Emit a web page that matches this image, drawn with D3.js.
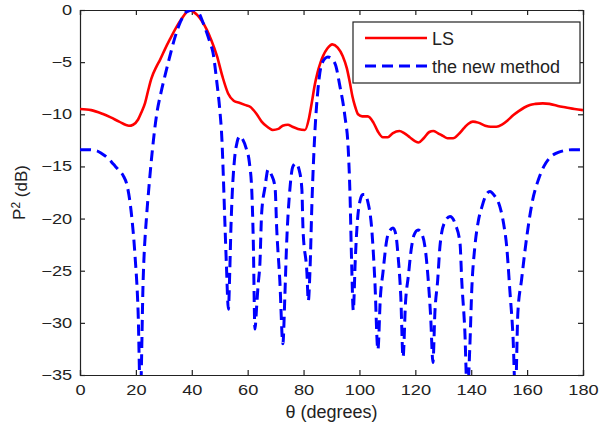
<!DOCTYPE html>
<html>
<head>
<meta charset="utf-8">
<script src="https://cdn.jsdelivr.net/npm/d3@7"></script>
<style>
  html, body { margin: 0; padding: 0; background: #fff; }
  svg { display: block; font-family: "Liberation Sans", Arial, sans-serif; }
</style>
</head>
<body>
<svg id="chart" width="611" height="434"></svg>
<script>
// ---- data ----
const xTicks = [0, 20, 40, 60, 80, 100, 120, 140, 160, 180];
const yTicks = [0, -5, -10, -15, -20, -25, -30, -35];
const seriesNames = ["LS", "the new method"];

const lsTheta = [0, 4, 8, 11, 14, 17.5, 19, 20.8, 22, 23.3, 24.5, 25.5, 27.4, 28.6, 30.5, 32.2, 34.6, 36.5, 38, 39.2, 40.5, 42, 43.5, 45.4, 47, 49, 51, 53, 55, 57, 59, 61, 63, 65, 67, 69, 71, 72.5, 74.4, 76, 78, 80.5, 82, 83, 84, 85, 86, 87, 88.5, 90.3, 92.2, 94, 95.5, 96.6, 97.5, 98.5, 99.5, 101, 103, 105, 106.5, 108.4, 110.2, 112, 114.3, 116, 118, 120, 121.2, 123, 125, 126.4, 128, 130, 131.5, 133.5, 135.5, 137.5, 139, 140.6, 142.5, 145, 147, 149, 151, 153, 155, 157, 159, 161, 163, 165.6, 168, 171, 174, 177, 180];
const lsDb    = [-9.5, -9.6, -9.95, -10.3, -10.7, -11.1, -11.0, -10.5, -9.8, -8.9, -7.6, -6.6, -5.4, -4.8, -3.7, -2.8, -1.6, -0.8, -0.25, 0, -0.15, -0.5, -1.0, -1.9, -2.9, -4.4, -6.4, -8.0, -8.7, -8.9, -9.1, -9.3, -9.9, -10.7, -11.2, -11.5, -11.4, -11.1, -11.0, -11.2, -11.4, -11.5, -10.3, -8.8, -7.2, -6.0, -5.1, -4.4, -3.7, -3.3, -3.6, -4.4, -5.6, -7.0, -8.3, -9.3, -10.0, -10.2, -10.2, -10.8, -11.6, -12.2, -12.2, -11.8, -11.6, -11.8, -12.2, -12.6, -12.7, -12.3, -11.7, -11.6, -11.8, -12.1, -12.3, -12.3, -11.9, -11.3, -10.9, -10.7, -10.8, -11.1, -11.2, -11.2, -11.0, -10.6, -10.1, -9.7, -9.35, -9.1, -9.0, -8.95, -9.0, -9.2, -9.35, -9.5, -9.6];

const newTheta = [0, 3, 6, 8, 10, 12, 14, 15.5, 17, 18.5, 19.7, 20.8, 21.6, 22.6, 23.9, 24.6, 25.8, 27.5, 29, 30.5, 32, 34, 36, 38, 40.5, 42.5, 44, 45.4, 46.5, 47.6, 49, 50, 50.8, 51.3, 51.8, 52.4, 53.1, 53.6, 54, 54.5, 55.3, 56.2, 57.2, 58.2, 59.5, 60.6, 61.5, 62, 62.6, 63.2, 63.7, 64.4, 65, 66.2, 67.3, 68.5, 69.8, 70.4, 71.5, 72.6, 73.3, 73.9, 75.1, 76.2, 77.3, 78.4, 79.4, 79.8, 81.2, 81.7, 82.3, 83, 84, 85.2, 86.6, 88.7, 91.2, 93, 94.8, 96, 96.6, 97.2, 97.8, 98.5, 99.2, 100.2, 101.2, 102, 103, 104.4, 105.5, 106.6, 107.5, 108.4, 109.8, 111, 112, 113, 113.8, 114.8, 115.6, 116.5, 117.5, 118.5, 119.5, 121, 122.5, 123.5, 124.5, 125.5, 126.3, 127, 128, 128.8, 130.4, 132.4, 134.4, 136, 136.6, 137.7, 138.6, 139.5, 140.2, 141.3, 142.5, 143.8, 145.2, 146.7, 148.3, 150.3, 151.6, 152.7, 153.8, 155, 155.8, 156.7, 158, 159.9, 162, 164, 166, 168, 170.7, 173, 176, 180];
const newDb    = [-13.4, -13.4, -13.5, -13.8, -14.2, -14.8, -15.4, -15.9, -17.0, -19.8, -23.6, -29, -37, -25.9, -19.5, -17.2, -13.7, -9.9, -7.9, -6.2, -4.6, -2.6, -1.1, -0.2, 0, -0.3, -1.2, -2.2, -3.1, -4.1, -7.0, -9.5, -12.5, -16, -20, -24.5, -28.7, -25, -21, -17.5, -14.3, -12.7, -12.1, -12.4, -13.3, -14.6, -17.5, -22, -30.6, -28.5, -26.5, -24.2, -19.5, -17.0, -15.3, -15.8, -17.0, -21, -25.9, -32.0, -27.5, -22.7, -17.2, -15.0, -14.7, -15.3, -17.2, -21, -25.2, -27.9, -25, -18.5, -12.0, -7.5, -5.1, -4.5, -5.1, -7.3, -10.2, -13.4, -17.5, -24.2, -28.8, -24, -20.5, -18.3, -17.7, -17.7, -18.4, -21, -25.9, -32.6, -27.5, -25.2, -22, -21.1, -20.9, -21.5, -23.5, -27.5, -33.3, -28, -25.5, -23, -21.6, -21.1, -21.6, -22.8, -25.5, -29.5, -33.8, -29, -25.9, -22.7, -20.4, -19.8, -20.6, -22.4, -25.9, -30.7, -37, -32.3, -26.8, -22.7, -20.3, -18.9, -17.8, -17.4, -17.8, -18.9, -20.5, -22.7, -26.8, -31.6, -37, -29, -25.9, -21.7, -18.2, -16.3, -15.0, -14.2, -13.7, -13.5, -13.4, -13.4];

// ---- layout ----
const svg = d3.select("#chart");
const M = { left: 80, top: 10, right: 28, bottom: 59 };
const W = 611 - M.left - M.right;   // 503
const H = 434 - M.top - M.bottom;   // 365

const x = d3.scaleLinear().domain([0, 180]).range([0, W]);
const y = d3.scaleLinear().domain([-35, 0]).range([H, 0]);

const g = svg.append("g").attr("transform", `translate(${M.left},${M.top})`);

g.append("defs").append("clipPath").attr("id", "clip")
  .append("rect").attr("x", 0).attr("y", 0).attr("width", W).attr("height", H);

const axisColor = "#222";
const tickStretch = 1.3;

// bottom axis
const xAxis = g.append("g").attr("transform", `translate(0,${H})`)
  .call(d3.axisBottom(x).tickValues(xTicks).tickSize(-5).tickPadding(10).tickFormat(d3.format("d")));
// left axis
const yAxis = g.append("g")
  .call(d3.axisLeft(y).tickValues(yTicks).tickSize(-5).tickPadding(6).tickFormat(d3.format("d")));
// top & right axes (ticks only)
const tAxis = g.append("g")
  .call(d3.axisTop(x).tickValues(xTicks).tickSize(-5).tickFormat(""));
const rAxis = g.append("g").attr("transform", `translate(${W},0)`)
  .call(d3.axisRight(y).tickValues(yTicks).tickSize(-5).tickFormat(""));

[xAxis, yAxis, tAxis, rAxis].forEach(a => {
  a.select(".domain").attr("stroke", axisColor).attr("stroke-width", 1.2);
  a.selectAll(".tick line").attr("stroke", axisColor).attr("stroke-width", 1.2);
  a.selectAll(".tick text").attr("fill", axisColor).style("font-size", "14px")
    .style("font-family", '"Liberation Sans", Arial, sans-serif');
});
xAxis.selectAll(".tick text").attr("transform", `scale(${tickStretch},1)`);
yAxis.selectAll(".tick text").attr("transform", `scale(${tickStretch},1)`);

// ---- lines ----
const lsData = lsTheta.map((t, i) => [t, lsDb[i]]);
const newData = newTheta.map((t, i) => [t, newDb[i]]);

const line = d3.line().x(d => x(d[0])).y(d => y(d[1])).curve(d3.curveMonotoneX);

const plot = g.append("g").attr("clip-path", "url(#clip)");
plot.append("path").datum(lsData)
  .attr("fill", "none").attr("stroke", "#ff0000").attr("stroke-width", 2.6)
  .attr("stroke-linejoin", "round").attr("d", line);
plot.append("path").datum(newData)
  .attr("fill", "none").attr("stroke", "#0000ff").attr("stroke-width", 3)
  .attr("stroke-dasharray", "11,6").attr("d", line);

// ---- labels ----
svg.append("text").attr("x", M.left + W / 2).attr("y", 418)
  .attr("text-anchor", "middle").attr("fill", axisColor).style("font-size", "18px")
  .text("θ (degrees)");

const yl = svg.append("text")
  .attr("transform", `translate(25,${M.top + H / 2}) rotate(-90)`)
  .attr("text-anchor", "middle").attr("fill", axisColor).style("font-size", "17px");
yl.append("tspan").text("P");
yl.append("tspan").attr("dy", "-0.4em").style("font-size", "12px").text("2");
yl.append("tspan").attr("dy", "0.4em").text(" (dB)");

// ---- legend ----
const lg = svg.append("g");
lg.append("rect").attr("x", 353).attr("y", 22).attr("width", 227).attr("height", 61)
  .attr("fill", "#fff").attr("stroke", axisColor).attr("stroke-width", 1.2);
const legendItems = [
  { name: seriesNames[0], color: "#ff0000", dash: null, w: 2.6, y: 38 },
  { name: seriesNames[1], color: "#0000ff", dash: "11,6", w: 3, y: 66 }
];
legendItems.forEach(it => {
  lg.append("line").attr("x1", 365).attr("x2", 427).attr("y1", it.y).attr("y2", it.y)
    .attr("stroke", it.color).attr("stroke-width", it.w)
    .attr("stroke-dasharray", it.dash);
  lg.append("text").attr("x", 432).attr("y", it.y + 7).attr("fill", axisColor)
    .style("font-size", "18px").text(it.name);
});
</script>
</body>
</html>
